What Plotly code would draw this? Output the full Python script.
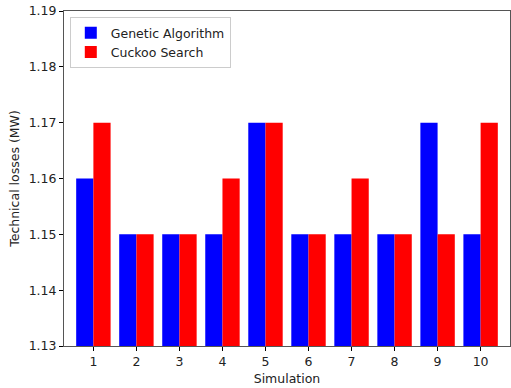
import plotly.graph_objects as go

simulations = [1, 2, 3, 4, 5, 6, 7, 8, 9, 10]
genetic_algorithm = [1.16, 1.15, 1.15, 1.15, 1.17, 1.15, 1.15, 1.15, 1.17, 1.15]
cuckoo_search = [1.17, 1.15, 1.15, 1.16, 1.17, 1.15, 1.16, 1.15, 1.15, 1.17]
y_ticks = [1.13, 1.14, 1.15, 1.16, 1.17, 1.18, 1.19]

fig = go.Figure()
fig.add_trace(go.Bar(x=simulations, y=genetic_algorithm, name="Genetic Algorithm",
                     marker=dict(color="#0000ff", line=dict(width=0))))
fig.add_trace(go.Bar(x=simulations, y=cuckoo_search, name="Cuckoo Search",
                     marker=dict(color="#ff0000", line=dict(width=0))))

font = dict(family="DejaVu Sans", size=12.5, color="#222222")
fig.update_layout(
    width=511, height=388,
    margin=dict(l=64, r=1, t=11, b=42),
    paper_bgcolor="white", plot_bgcolor="white",
    barmode="group", bargap=0.2, bargroupgap=0,
    font=font,
    showlegend=True,
    legend=dict(x=0.013, y=0.982, xanchor="left", yanchor="top",
                bgcolor="rgba(255,255,255,0.8)", bordercolor="#cccccc", borderwidth=1,
                font=dict(family="DejaVu Sans", size=12.5, color="#222222"),
                tracegroupgap=0, itemwidth=30),
    xaxis=dict(range=[0.317, 10.683], tickmode="array", tickvals=simulations,
               ticktext=[str(s) for s in simulations],
               showgrid=False, zeroline=False, showline=True, linecolor="#555555",
               linewidth=1, mirror=True, ticks="outside", ticklen=4, tickcolor="black",
               title=dict(text="Simulation", font=font, standoff=6)),
    yaxis=dict(range=[1.13, 1.19], tickmode="array", tickvals=y_ticks,
               ticktext=[f"{v:.2f}" for v in y_ticks],
               showgrid=False, zeroline=False, showline=True, linecolor="#555555",
               linewidth=1, mirror=True, ticks="outside", ticklen=4, tickcolor="black",
               title=dict(text="Technical losses (MW)", font=font, standoff=6)),
)
fig.write_html("out.html")
